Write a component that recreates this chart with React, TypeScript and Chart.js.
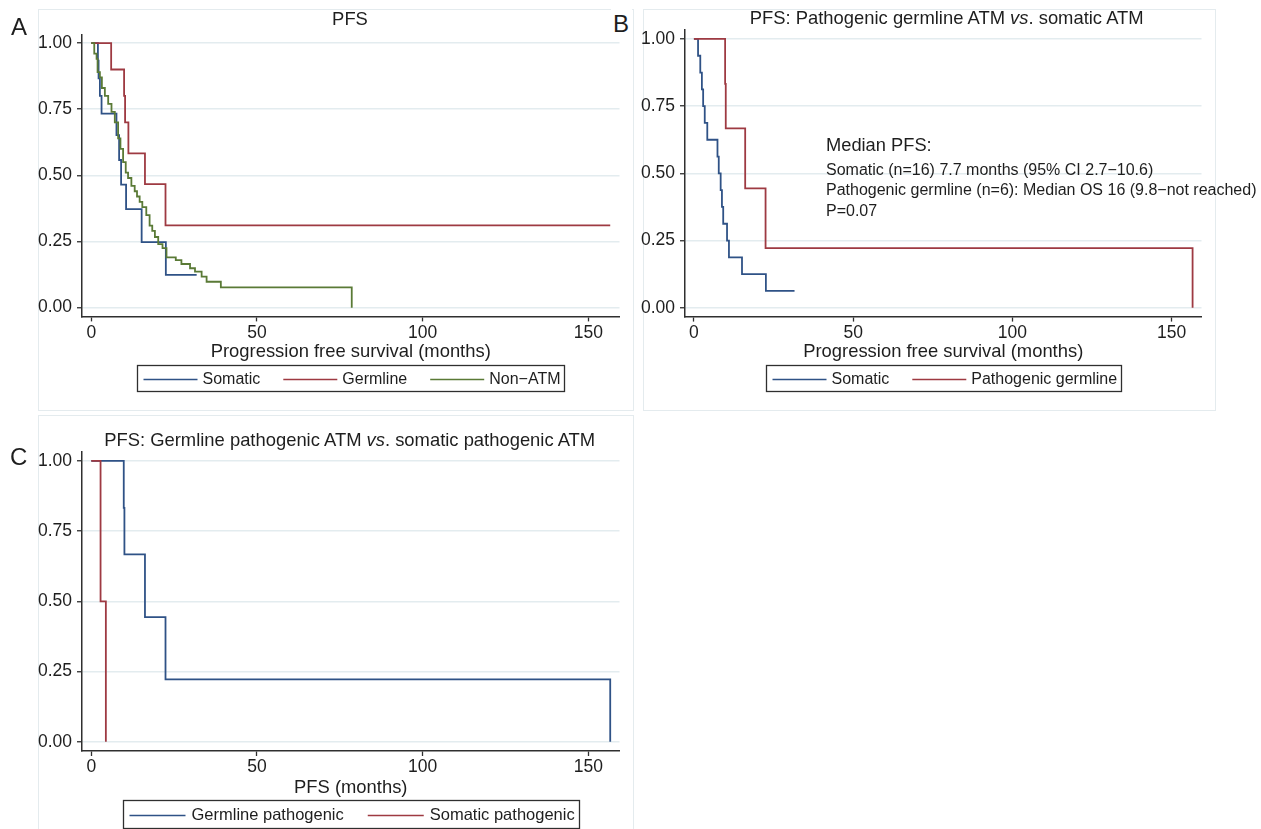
import React, { useEffect, useRef } from "react";
import { Chart, registerables } from "chart.js";

Chart.register(...registerables);

const FONT = '"Liberation Sans", Arial, Helvetica, sans-serif';
const TEXT = "#1e1e1e";
const AXIS = "#2f2f2f";
const GRID = "#e3ecef";
const FRAME = "#e4ebee";

const NAVY = "#2f5286";
const MAROON = "#9e3a42";
const GREEN = "#5a7a36";

// ---- ticks ----
const X_TICKS = [0, 50, 100, 150];
const Y_TICKS = [0, 0.25, 0.5, 0.75, 1];
const X_MIN = -2.8;
const X_MAX = 159.4;
const Y_MIN = -0.033;
const Y_MAX = 1.033;

// ---- Panel A: PFS ----
const A_LABELS = ["Somatic", "Germline", "Non\u2212ATM"];
const A_TIME_SOMATIC = [0, 2.0, 2.2, 2.6, 3.1, 7.6, 8.4, 9.0, 10.5, 15.2, 22.5, 31.8];
const A_SURV_SOMATIC = [1, 0.933, 0.867, 0.8, 0.733, 0.652, 0.558, 0.465, 0.372, 0.248, 0.124, 0.124];
const A_TIME_GERMLINE = [0, 6.0, 9.9, 10.2, 11.2, 16.2, 22.4, 156.6];
const A_SURV_GERMLINE = [1, 0.9, 0.8, 0.7, 0.583, 0.467, 0.311, 0.311];
const A_TIME_NONATM = [0, 0.9, 1.6, 1.9, 2.6, 3.2, 4.1, 5.1, 6.1, 7.1, 8.1, 8.8, 9.6, 10.4, 11.1, 12.1, 13.1, 13.8, 14.6, 15.4, 16.6, 17.6, 18.4, 19.2, 20.2, 21.5, 22.7, 25.5, 27.2, 29.8, 31.3, 33.3, 34.8, 39.1, 78.6];
const A_SURV_NONATM = [1, 0.96, 0.94, 0.89, 0.87, 0.83, 0.8, 0.77, 0.74, 0.7, 0.64, 0.6, 0.55, 0.51, 0.49, 0.46, 0.44, 0.42, 0.4, 0.38, 0.35, 0.31, 0.29, 0.267, 0.24, 0.225, 0.19, 0.18, 0.165, 0.149, 0.136, 0.117, 0.098, 0.077, 0];

// ---- Panel B: pathogenic germline vs somatic ----
const B_LABELS = ["Somatic", "Pathogenic germline"];
const B_TIME_SOMATIC = [0, 1.3, 2.0, 2.5, 2.9, 3.4, 4.2, 7.4, 7.8, 8.4, 8.8, 9.2, 10.4, 11.0, 15.1, 22.6, 31.6];
const B_SURV_SOMATIC = [1, 0.9375, 0.875, 0.8125, 0.75, 0.6875, 0.625, 0.5625, 0.5, 0.4375, 0.375, 0.3125, 0.25, 0.1875, 0.125, 0.0625, 0.0625];
const B_TIME_GERMLINE = [0, 9.8, 10.0, 16.1, 22.5, 156.6];
const B_SURV_GERMLINE = [1, 0.833, 0.667, 0.444, 0.222, 0];
const B_NOTE = [
  "Somatic (n=16) 7.7 months (95% CI 2.7\u221210.6)",
  "Pathogenic germline (n=6): Median OS 16 (9.8\u2212not reached)",
  "P=0.07",
];

// ---- Panel C: germline pathogenic vs somatic pathogenic ----
const C_LABELS = ["Germline pathogenic", "Somatic pathogenic"];
const C_TIME_GERMLINE = [0, 9.8, 10.0, 16.2, 22.4, 156.6];
const C_SURV_GERMLINE = [1, 0.833, 0.667, 0.444, 0.222, 0];
const C_TIME_SOMATIC = [0, 2.8, 4.4];
const C_SURV_SOMATIC = [1, 0.5, 0];

type Series = { label: string; t: number[]; s: number[]; color: string };

const boxLegend = {
  id: "boxLegend",
  afterDraw(chart: any, _args: any, opts: any) {
    const { ctx, chartArea } = chart;
    const ds = chart.data.datasets;
    ctx.save();
    ctx.font = `${opts.fontSize}px ${FONT}`;
    const widths = ds.map((d: any) => ctx.measureText(d.label).width);
    let total = opts.padL + opts.padR + opts.itemGap * (ds.length - 1);
    widths.forEach((w: number) => (total += opts.sample + opts.gap + w));
    const cx = (chartArea.left + chartArea.right) / 2;
    const x0 = Math.round(cx - total / 2) + 0.5;
    const top = Math.round(chartArea.bottom + opts.offset) + 0.5;
    ctx.strokeStyle = AXIS;
    ctx.lineWidth = 1.3;
    ctx.strokeRect(x0, top, Math.round(total), opts.height);
    const cy = top + opts.height / 2;
    let x = x0 + opts.padL;
    ds.forEach((d: any, i: number) => {
      ctx.strokeStyle = d.borderColor;
      ctx.lineWidth = 1.6;
      ctx.beginPath();
      ctx.moveTo(x, Math.round(cy) + 0.5);
      ctx.lineTo(x + opts.sample, Math.round(cy) + 0.5);
      ctx.stroke();
      x += opts.sample + opts.gap;
      ctx.fillStyle = TEXT;
      ctx.textBaseline = "middle";
      ctx.textAlign = "left";
      ctx.fillText(d.label, x, cy + 1);
      x += widths[i] + opts.itemGap;
    });
    ctx.restore();
  },
};

type PanelProps = {
  left: number;
  top: number;
  width: number;
  height: number;
  pad: { left: number; right: number; top: number };
  xAxisHeight: number;
  tickPad: number;
  titlePadBottom: number;
  xTitle: string;
  series: Series[];
  legend: any;
};

function KMPanel(p: PanelProps) {
  const ref = useRef<HTMLCanvasElement>(null);
  useEffect(() => {
    const n = p.series.length;
    const chart = new Chart(ref.current as HTMLCanvasElement, {
      type: "line",
      data: {
        datasets: p.series.map((sr, i) => ({
          label: sr.label,
          data: sr.t.map((t, k) => ({ x: t, y: sr.s[k] })),
          borderColor: sr.color,
          backgroundColor: sr.color,
          borderWidth: 1.8,
          pointRadius: 0,
          stepped: true,
          fill: false,
          order: n - i,
        })),
      },
      options: {
        animation: false,
        responsive: false,
        events: [],
        layout: { padding: { left: p.pad.left, right: p.pad.right, top: p.pad.top, bottom: 0 } },
        plugins: {
          legend: { display: false },
          tooltip: { enabled: false },
          boxLegend: p.legend,
        } as any,
        scales: {
          x: {
            type: "linear",
            min: X_MIN,
            max: X_MAX,
            afterBuildTicks: (s: any) => {
              s.ticks = X_TICKS.map((v) => ({ value: v }));
            },
            afterFit: (s: any) => {
              s.height = p.xAxisHeight;
            },
            ticks: {
              autoSkip: false,
              maxRotation: 0,
              padding: p.tickPad,
              color: TEXT,
              font: { family: FONT, size: 17.5 },
              callback: (v: any) => String(v),
            },
            grid: {
              display: true,
              drawOnChartArea: false,
              drawTicks: true,
              tickLength: 5,
              tickColor: AXIS,
              tickWidth: 1.3,
            },
            border: { display: true, color: AXIS, width: 1.5 },
            title: {
              display: true,
              text: p.xTitle,
              color: TEXT,
              font: { family: FONT, size: 18.4 },
              padding: { top: 0, bottom: p.titlePadBottom },
            },
          },
          y: {
            type: "linear",
            min: Y_MIN,
            max: Y_MAX,
            afterBuildTicks: (s: any) => {
              s.ticks = Y_TICKS.map((v) => ({ value: v }));
            },
            afterFit: (s: any) => {
              s.width = 44;
            },
            ticks: {
              padding: 5,
              color: TEXT,
              font: { family: FONT, size: 17.5 },
              callback: (v: any) => Number(v).toFixed(2),
            },
            grid: {
              display: true,
              color: GRID,
              lineWidth: 1.5,
              drawTicks: true,
              tickLength: 5,
              tickColor: AXIS,
              tickWidth: 1.3,
            },
            border: { display: true, color: AXIS, width: 1.5 },
          },
        },
      },
      plugins: [boxLegend as any],
    });
    return () => chart.destroy();
  }, []);
  return (
    <canvas
      ref={ref}
      width={p.width}
      height={p.height}
      style={{ position: "absolute", left: p.left, top: p.top, width: p.width, height: p.height }}
    />
  );
}

const abs = (left: number, top: number, fs: number, extra: any = {}) => ({
  position: "absolute" as const,
  left,
  top,
  fontSize: fs,
  lineHeight: `${fs}px`,
  whiteSpace: "nowrap" as const,
  fontFamily: FONT,
  color: TEXT,
  ...extra,
});

function Title({ cx, cy, fs, children }: any) {
  return (
    <div style={abs(cx - 350, cy - 0.52 * fs, fs, { width: 700, textAlign: "center" })}>{children}</div>
  );
}

export default function App() {
  const seriesA: Series[] = [
    { label: A_LABELS[0], t: A_TIME_SOMATIC, s: A_SURV_SOMATIC, color: NAVY },
    { label: A_LABELS[1], t: A_TIME_GERMLINE, s: A_SURV_GERMLINE, color: MAROON },
    { label: A_LABELS[2], t: A_TIME_NONATM, s: A_SURV_NONATM, color: GREEN },
  ];
  const seriesB: Series[] = [
    { label: B_LABELS[0], t: B_TIME_SOMATIC, s: B_SURV_SOMATIC, color: NAVY },
    { label: B_LABELS[1], t: B_TIME_GERMLINE, s: B_SURV_GERMLINE, color: MAROON },
  ];
  const seriesC: Series[] = [
    { label: C_LABELS[0], t: C_TIME_GERMLINE, s: C_SURV_GERMLINE, color: NAVY },
    { label: C_LABELS[1], t: C_TIME_SOMATIC, s: C_SURV_SOMATIC, color: MAROON },
  ];
  const legAB = { offset: 48.6, height: 26, padL: 6, padR: 4, sample: 54, gap: 5, itemGap: 23, fontSize: 16 };
  const legC = { offset: 49, height: 28, padL: 6, padR: 5, sample: 56, gap: 6, itemGap: 24, fontSize: 16.5 };
  const frame = (left: number, top: number, width: number, height: number) => (
    <div
      style={{
        position: "absolute",
        left,
        top,
        width,
        height,
        border: `1.5px solid ${FRAME}`,
        boxSizing: "border-box",
      }}
    />
  );
  return (
    <div
      style={{
        position: "absolute",
        left: 0,
        top: 0,
        width: 1261,
        height: 829,
        overflow: "hidden",
        background: "#fff",
        fontFamily: FONT,
      }}
    >
      {frame(38, 9, 596, 402)}
      {frame(643, 9, 573, 402)}
      {frame(38, 415, 596, 430)}

      <KMPanel
        left={0}
        top={0}
        width={640}
        height={410}
        pad={{ left: 38, right: 20.5, top: 34.3 }}
        xAxisHeight={93.6}
        tickPad={1.4}
        titlePadBottom={47.2}
        xTitle="Progression free survival (months)"
        series={seriesA}
        legend={legAB}
      />
      <KMPanel
        left={640}
        top={0}
        width={580}
        height={410}
        pad={{ left: 1, right: 18.5, top: 30.1 }}
        xAxisHeight={93.4}
        tickPad={1.4}
        titlePadBottom={47.5}
        xTitle="Progression free survival (months)"
        series={seriesB}
        legend={legAB}
      />
      <KMPanel
        left={0}
        top={415}
        width={640}
        height={414}
        pad={{ left: 38, right: 20.5, top: 36.7 }}
        xAxisHeight={78}
        tickPad={0.5}
        titlePadBottom={29.9}
        xTitle="PFS (months)"
        series={seriesC}
        legend={legC}
      />

      <Title cx={350} cy={20} fs={18.4}>PFS</Title>
      <Title cx={946.7} cy={18.7} fs={18.4}>
        PFS: Pathogenic germline ATM <i>vs</i>. somatic ATM
      </Title>
      <Title cx={349.7} cy={440.5} fs={18.4}>
        PFS: Germline pathogenic ATM <i>vs</i>. somatic pathogenic ATM
      </Title>

      <div style={abs(11, 14.8, 24)}>A</div>
      <div style={abs(611, 8, 24, { background: "#fff", padding: "4px 3px 6px 2px" })}>B</div>
      <div style={abs(10, 445.3, 24)}>C</div>

      <div style={abs(826, 135.5, 18.3)}>Median PFS:</div>
      <div style={abs(826, 161.7, 16)}>{B_NOTE[0]}</div>
      <div style={abs(826, 182.4, 16)}>{B_NOTE[1]}</div>
      <div style={abs(826, 203.4, 16)}>{B_NOTE[2]}</div>
    </div>
  );
}
